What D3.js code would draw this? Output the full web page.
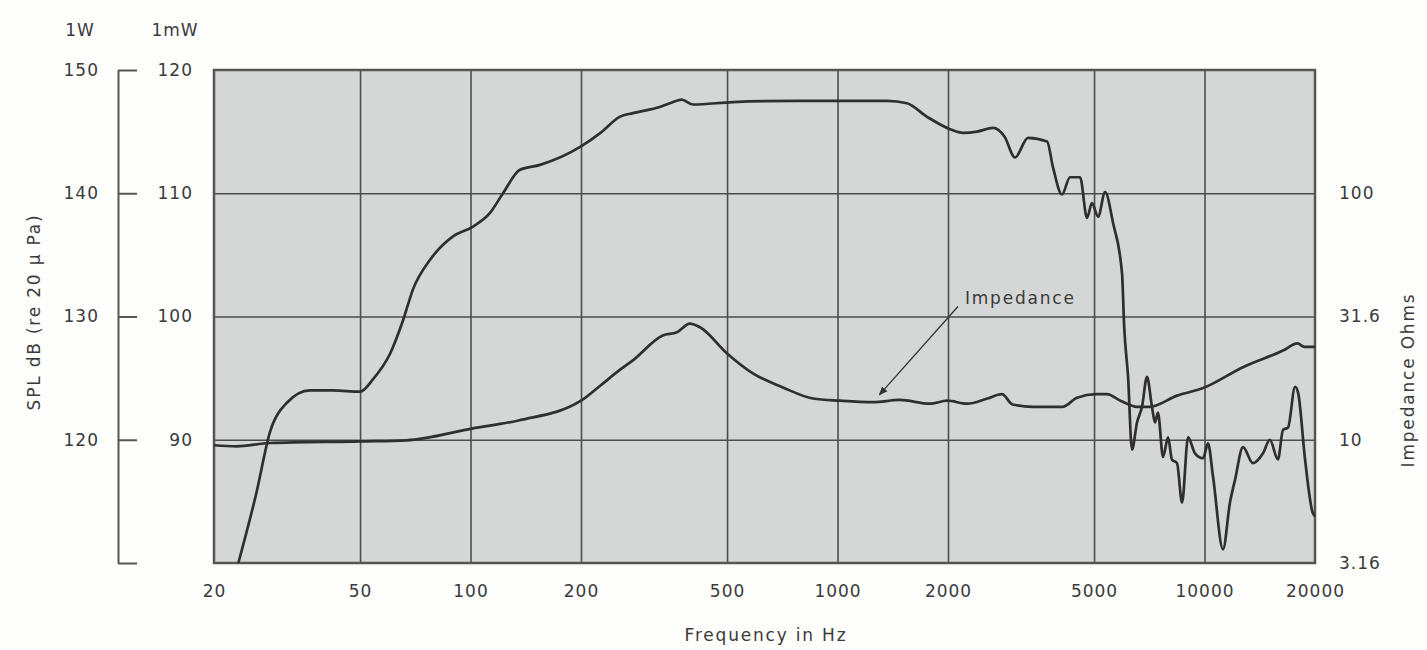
<!DOCTYPE html>
<html>
<head>
<meta charset="utf-8">
<title>SPL and Impedance</title>
<style>
  body { margin: 0; background: #fefefd; }
  svg { font-family: "DejaVu Sans", "Liberation Sans", Arial, sans-serif; }
  .lbl { fill: #3a3a3a; font-size: 17px; letter-spacing: 1px; }
  .grid line { stroke: #4d4d4d; stroke-width: 1.6px; }
  .grid path { display: none; }
  .curve { fill: none; stroke: #2f2f2f; stroke-width: 2.7px; stroke-linejoin: round; }
</style>
</head>
<body>
<script src="https://d3js.org/d3.v7.min.js"></script>
<script>

// frequency response, dB on the 1mW scale
var splFreq = [23.3, 26.1, 28.4, 31.6, 36.5, 42.2, 50, 54.2, 60.4, 65.5, 69.7, 77.6, 89.6, 101.6, 113, 122.6,
  136.4, 154.7, 200, 226, 255, 277, 328, 365, 376, 404, 519, 790, 1365, 1546, 1754, 2025, 2198, 2400, 2653,
  2850, 3045, 3304, 3724, 3865, 4089, 4300, 4580, 4784, 4935, 5128, 5360, 5632, 5960, 6040, 6190, 6343,
  6548, 6758, 6970, 7190, 7330, 7465, 7710, 7955, 8150, 8415, 8685, 9020, 9420, 9906, 10220, 10550, 11230,
  11730, 12100, 12730, 13550, 14430, 15070, 15850, 16360, 16890, 17650, 17990, 18790, 19700, 20000];
var splDb = [80, 85.7, 90.6, 93.0, 94.0, 94.0, 93.9, 94.9, 97.0, 99.7, 102.2, 104.6, 106.5, 107.3, 108.4, 110,
  111.9, 112.3, 113.8, 114.9, 116.2, 116.5, 117.0, 117.5, 117.6, 117.2, 117.4, 117.5, 117.5, 117.3, 116.2, 115.2, 114.9, 115.0, 115.3,
  114.6, 112.9, 114.5, 114.2, 112.1, 109.9, 111.3, 111.3, 108.0, 109.2, 108.1, 110.1, 107.6, 103.5, 99.2, 95.1, 89.2,
  91.4, 92.7, 95.1, 92.7, 91.4, 92.2, 88.6, 90.2, 88.4, 88.1, 84.9, 90.2, 88.9, 88.5, 89.7, 87.0, 81.1,
  84.9, 86.7, 89.4, 88.1, 88.9, 90.0, 88.4, 90.8, 91.0, 94.3, 93.8, 88.4, 84.1, 83.8];

// impedance in ohms
var zFreq = [20, 23, 28.4, 50, 67, 101, 136, 200, 226, 255, 277, 334, 365, 396, 422, 500, 588, 710, 857,
  1016, 1249, 1478, 1785, 1990, 2256, 2562, 2806, 3000, 3410, 4100, 4493, 5070, 5420, 5900, 6548, 7080,
  8415, 9906, 12730, 16360, 17920, 18700, 20000];
var zOhm = [9.5, 9.4, 9.7, 9.85, 9.95, 11.1, 12.0, 14.4, 16.6, 19.2, 21.0, 26.5, 27.3, 29.6, 28.6, 22.4, 18.6, 16.3, 14.7,
  14.4, 14.2, 14.5, 14.0, 14.4, 14.0, 14.7, 15.3, 13.9, 13.6, 13.6, 14.8, 15.3, 15.3, 14.4, 13.6, 13.6,
  15.1, 16.2, 19.7, 23.0, 24.6, 23.8, 23.8];

var freqTicks = [20, 50, 100, 200, 500, 1000, 2000, 5000, 10000, 20000];
var wattTicks = [150, 140, 130, 120, 110];
var mwTicks = [120, 110, 100, 90];
var ohmTicks = [3.162, 10, 31.62, 100];
var ohmLabels = ["3.16", "10", "31.6", "100"];

var W = 1427, H = 650;
var plotL = 214, plotR = 1315, plotT = 70, plotB = 563;

var svg = d3.select("body").append("svg")
    .attr("width", W)
    .attr("height", H);

var x = d3.scaleLog().domain([20, 20000]).range([plotL, plotR]);
var yMw = d3.scaleLinear().domain([80, 120]).range([plotB, plotT]);
var yW = d3.scaleLinear().domain([110, 150]).range([plotB, plotT]);
var yZ = d3.scaleLog().domain([3.162, 316.2]).range([plotB, plotT]);

// plot background
svg.append("rect")
    .attr("x", plotL).attr("y", plotT)
    .attr("width", plotR - plotL).attr("height", plotB - plotT)
    .style("fill", "#d5d7d6");

// grid
svg.append("g")
    .attr("class", "grid")
    .attr("transform", "translate(0," + plotB + ")")
    .call(d3.axisBottom(x).tickValues(freqTicks.slice(1, -1)).tickSize(-(plotB - plotT)).tickFormat(""));

svg.append("g")
    .attr("class", "grid")
    .attr("transform", "translate(" + plotL + ",0)")
    .call(d3.axisLeft(yMw).tickValues([110, 100, 90]).tickSize(-(plotR - plotL)).tickFormat(""));

svg.append("rect")
    .attr("x", plotL).attr("y", plotT)
    .attr("width", plotR - plotL).attr("height", plotB - plotT)
    .style("fill", "none")
    .style("stroke", "#555")
    .style("stroke-width", 2.5);

// curves
var splLine = d3.line()
    .x(function (d, i) { return x(splFreq[i]); })
    .y(function (d) { return yMw(d); })
    .curve(d3.curveMonotoneX);

var zLine = d3.line()
    .x(function (d, i) { return x(zFreq[i]); })
    .y(function (d) { return yZ(d); })
    .curve(d3.curveMonotoneX);

svg.append("path").datum(zOhm).attr("class", "curve").attr("d", zLine);
svg.append("path").datum(splDb).attr("class", "curve").attr("d", splLine);

// outer 1W axis: bracket line with ticks, labels on the left
var gW = svg.append("g")
    .attr("transform", "translate(118,0)")
    .call(d3.axisRight(yW).tickValues(wattTicks).tickSize(19).tickSizeOuter(0).tickFormat(""));
gW.selectAll("line, path").style("stroke", "#555").style("stroke-width", 2);

var gWl = svg.append("g")
    .attr("transform", "translate(118,0)")
    .call(d3.axisLeft(yW).tickValues(wattTicks.slice(0, 4)).tickSize(0).tickPadding(19));
gWl.select(".domain").remove();

// 1mW labels
var gMw = svg.append("g")
    .attr("transform", "translate(" + plotL + ",0)")
    .call(d3.axisLeft(yMw).tickValues(mwTicks).tickSize(0).tickPadding(21));
gMw.select(".domain").remove();

// impedance labels
var gZ = svg.append("g")
    .attr("transform", "translate(" + plotR + ",0)")
    .call(d3.axisRight(yZ).tickValues(ohmTicks).tickSize(0).tickPadding(24)
      .tickFormat(function (d, i) { return ohmLabels[i]; }));
gZ.select(".domain").remove();

// frequency labels
var gX = svg.append("g")
    .attr("transform", "translate(0," + plotB + ")")
    .call(d3.axisBottom(x).tickValues(freqTicks).tickSize(0).tickPadding(22).tickFormat(d3.format("d")));
gX.select(".domain").remove();

svg.selectAll(".tick text")
    .attr("class", "lbl")
    .style("font-family", "\"DejaVu Sans\", \"Liberation Sans\", Arial, sans-serif")
    .style("font-size", "17px")
    .style("letter-spacing", "1px")
    .style("fill", "#3a3a3a");

// titles
svg.append("text").attr("class", "lbl").attr("x", 80).attr("y", 36)
    .attr("text-anchor", "middle").text("1W");
svg.append("text").attr("class", "lbl").attr("x", 175).attr("y", 36)
    .attr("text-anchor", "middle").text("1mW");

svg.append("text").attr("class", "lbl")
    .attr("transform", "translate(40,312) rotate(-90)")
    .attr("text-anchor", "middle")
    .style("letter-spacing", "1.8px")
    .text("SPL dB (re 20 \u03bc Pa)");

svg.append("text").attr("class", "lbl")
    .attr("transform", "translate(1414,380) rotate(-90)")
    .attr("text-anchor", "middle")
    .style("letter-spacing", "1.8px")
    .text("Impedance Ohms");

svg.append("text").attr("class", "lbl")
    .attr("x", 766).attr("y", 641)
    .attr("text-anchor", "middle")
    .style("letter-spacing", "1.8px")
    .text("Frequency in Hz");

// annotation
svg.append("defs").append("marker")
    .attr("id", "tip")
    .attr("viewBox", "0 0 10 10")
    .attr("refX", 9).attr("refY", 5)
    .attr("markerWidth", 7).attr("markerHeight", 7)
    .attr("orient", "auto")
  .append("path")
    .attr("d", "M0,1 L10,5 L0,9 Z")
    .style("fill", "#333");

svg.append("line")
    .attr("x1", x(2129)).attr("y1", yZ(34.7))
    .attr("x2", x(1300)).attr("y2", yZ(15.2))
    .style("stroke", "#333")
    .style("stroke-width", 1.3)
    .attr("marker-end", "url(#tip)");

svg.append("text").attr("class", "lbl")
    .attr("x", x(2224)).attr("y", yZ(37.7))
    .attr("dy", "0.35em")
    .style("letter-spacing", "1.8px")
    .text("Impedance");

</script>
</body>
</html>
